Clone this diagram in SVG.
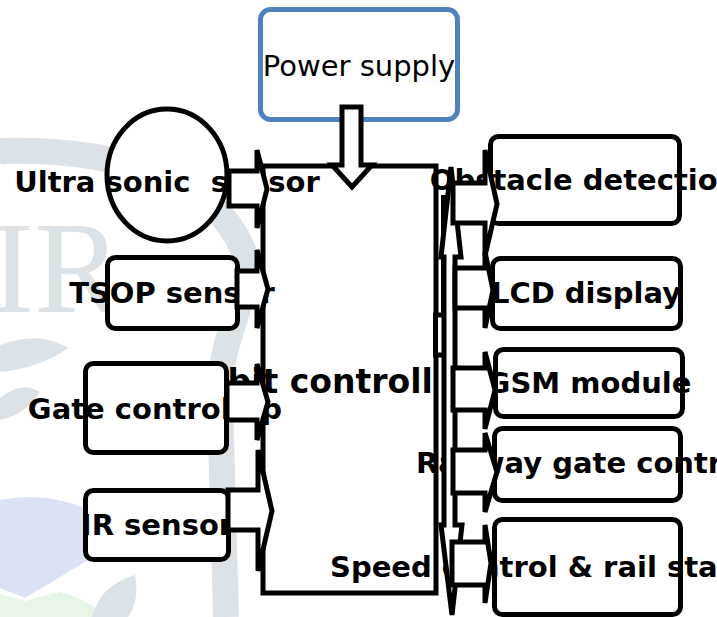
<svg xmlns="http://www.w3.org/2000/svg" width="717" height="617" viewBox="0 0 717 617">
<style>
.box{fill:#fff;stroke:#000;stroke-width:5}
.lbl{font-family:"DejaVu Sans","Liberation Sans",sans-serif;font-weight:bold;font-size:29px;fill:#000}
.arr{fill:#fff;stroke:#000;stroke-width:5}
.wm{fill:#dce3e8}
</style>
<defs>
<clipPath id="cclip"><rect x="0" y="0" width="436" height="617"/></clipPath>
</defs>
<rect width="717" height="617" fill="#fff"/>
<g id="watermark">
<path d="M0,151 C120,148 215,180 243,250 C255,300 218,330 220,400 L226,617" fill="none" stroke="#dce3e8" stroke-width="26"/>
<text x="-10" y="312" font-family="Liberation Serif" font-size="132" fill="#dce3e8">IR</text>
<path d="M0,500 Q68,486 130,535 L25,598 L0,588 Z" fill="#dbe2f6"/>
<path d="M0,594 L25,601 L60,592 Q92,600 102,617 L0,617 Z" fill="#e6f6e6"/>
<path d="M0,345 Q40,330 68,348 Q40,368 0,372 Z" class="wm"/>
<path d="M0,398 Q22,380 40,392 Q25,415 0,420 Z" class="wm"/>
<path d="M92,617 Q100,585 135,575 Q140,600 128,617 Z" class="wm"/>
</g>
<g id="power-supply">
<rect x="260.5" y="9.5" width="197" height="110" rx="10" fill="#fff" stroke="#4f81bd" stroke-width="5"/>
<text x="359" y="76" text-anchor="middle" font-family="DejaVu Sans,Liberation Sans,sans-serif" font-size="29">Power supply</text>
</g>
<g id="controller">
<rect x="263" y="166" width="173" height="427" class="box"/>
<text x="349.5" y="393" text-anchor="middle" class="lbl" style="font-size:33px" clip-path="url(#cclip)">bit controller</text>
</g>
<g id="ultrasonic">
<ellipse cx="167" cy="175" rx="60" ry="66" class="box"/>
<text x="167" y="192" text-anchor="middle" class="lbl" xml:space="preserve">Ultra sonic  sensor</text>
</g>
<g id="tsop">
<rect x="107.5" y="257.5" width="130" height="71" rx="8" class="box"/>
<text x="172" y="303" text-anchor="middle" class="lbl">TSOP sensor</text>
</g>
<g id="gate-control">
<rect x="85.5" y="363.5" width="141" height="89" rx="8" class="box"/>
<text x="155" y="419" text-anchor="middle" class="lbl">Gate control up</text>
</g>
<g id="ir-sensor">
<rect x="85.5" y="490.5" width="143" height="69" rx="8" class="box"/>
<text x="157" y="535" text-anchor="middle" class="lbl">IR sensor</text>
</g>
<g id="obstacle">
<rect x="490.5" y="136.5" width="189" height="87" rx="8" class="box"/>
<text x="584" y="190" text-anchor="middle" class="lbl">Obstacle detection</text>
</g>
<g id="lcd">
<rect x="492.5" y="258.5" width="188" height="70" rx="8" class="box"/>
<text x="586" y="303" text-anchor="middle" class="lbl">LCD display</text>
</g>
<g id="gsm">
<rect x="495.5" y="349.5" width="187" height="67" rx="8" class="box"/>
<text x="589" y="393" text-anchor="middle" class="lbl">GSM module</text>
</g>
<g id="railway-gate">
<rect x="494.5" y="428.5" width="186" height="72" rx="8" class="box"/>
<text x="584" y="473" text-anchor="middle" class="lbl">Railway gate control</text>
</g>
<g id="speed-control">
<rect x="494.5" y="519.5" width="186" height="95" rx="8" class="box"/>
<text x="330" y="577" class="lbl">Speed control &amp; rail station</text>
</g>
<g id="connectors">
<polygon class="arr" stroke-width="4.5" points="342,107 361,107 361,165 372,165 352,187 332,165 342,165"/>
<polygon class="arr" points="229,171 257,171 257,150 267,189 257,228 257,206 229,206"/>
<polygon class="arr" points="237,271 257,271 257,250 268,289 257,328 257,307 237,307"/>
<polygon class="arr" points="227,383 257,383 257,364 268,402 257,440 257,420 227,420"/>
<polygon class="arr" points="228,490 258,490 258,450 272,511 258,571 258,530 228,530"/>
<path d="M443.5,195 V315" fill="none" stroke="#000" stroke-width="5"/>
<rect x="435.5" y="315" width="9" height="40" class="arr"/>
<polygon class="arr" points="451,167 461,257 455,257 455,525 462,525 452,615 441,525 444,525 444,257 441,257"/>
<polygon class="arr" points="453,183 485,183 485,150 497,204 485,256 485,223 453,223"/>
<polygon class="arr" points="455,268 485,268 485,252 493,290 485,328 485,308 455,308"/>
<polygon class="arr" points="453,368 485,368 485,352 495,390 485,429 485,410 453,410"/>
<polygon class="arr" points="453,450 485,450 485,433 497,472 485,512 485,493 453,493"/>
<polygon class="arr" points="452,542 485,542 485,525 491,563 485,603 485,585 452,585"/>
</g>
</svg>
